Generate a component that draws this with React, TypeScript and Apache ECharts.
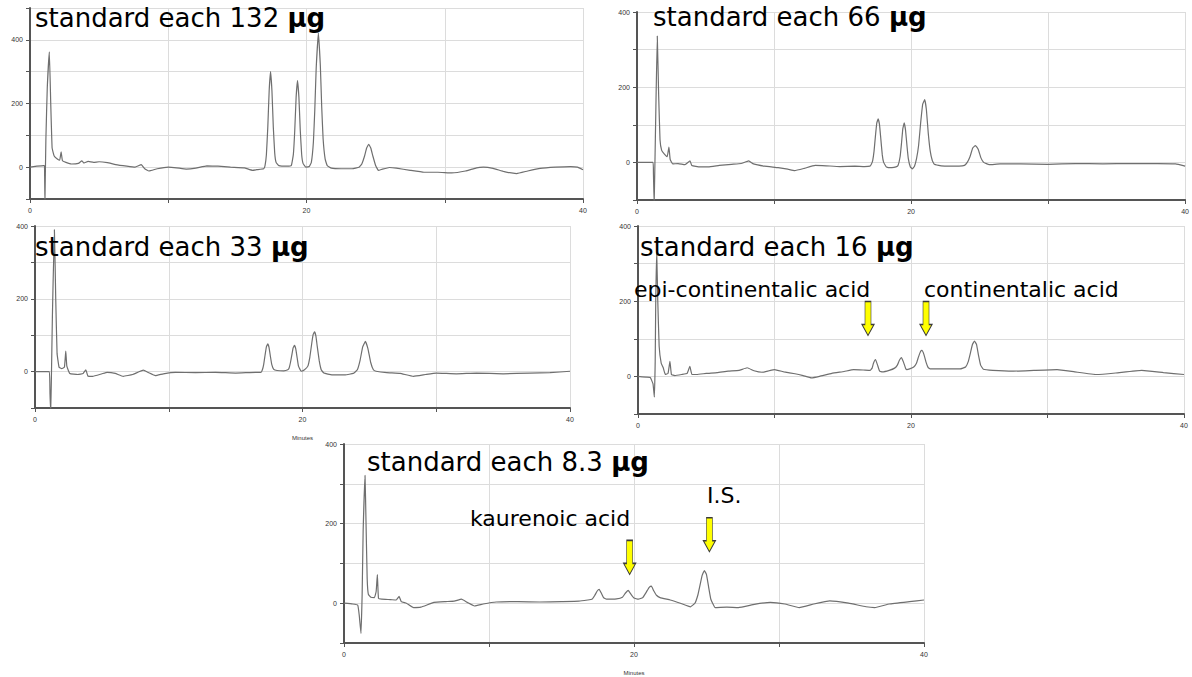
import React, { useEffect, useRef } from "react";
import * as echarts from "echarts";

type Pt = [number, number];

const panelAmounts = ["132", "66", "33", "16", "8.3"];
const unitText = "μg";

const xLabelValues = [0, 20, 40];
const yLabelValues = [0, 200, 400];
const yMaxes = [500, 400, 400, 400, 400];
const yMin = -100;
const xMin = 0;
const xMax = 40;

const std132: Pt[] = [
  [0, 0], [0.5, 3], [1.0, 5], [1.05, 3], [1.08, -110], [1.12, -110], [1.15, 90], [1.25, 250], [1.4, 362],
  [1.5, 200], [1.6, 60], [1.75, 35], [2.0, 25], [2.15, 22], [2.25, 48], [2.35, 20], [2.6, 15], [3.0, 10],
  [3.5, 12], [3.75, 20], [3.9, 13], [4.2, 18], [4.6, 15], [5.0, 17], [5.6, 14], [6.2, 8], [7.0, 3], [7.6, 0],
  [8.05, 8], [8.3, -5], [8.6, -12], [9.2, -5], [10, 0], [10.6, -2], [11.3, -6], [12.0, -3], [12.8, 4],
  [13.6, 3], [14.5, 0], [15.5, -2], [16.1, -10], [16.4, -8], [16.9, -5],
  [17.0, 5], [17.1, 40], [17.2, 125], [17.3, 240], [17.4, 300], [17.5, 240], [17.6, 125], [17.7, 45],
  [17.8, 15], [18.0, 5], [18.6, 3], [18.9, 5],
  [19.05, 40], [19.15, 115], [19.25, 220], [19.35, 272], [19.45, 220], [19.55, 115], [19.65, 40],
  [19.75, 12], [19.95, 0], [20.2, 2],
  [20.35, 15], [20.5, 80], [20.6, 180], [20.7, 310], [20.86, 421], [21.0, 320], [21.1, 190], [21.2, 90],
  [21.35, 25], [21.5, 5], [21.8, -3], [22.5, -5], [23.3, -5], [23.8, 0],
  [24.0, 10], [24.2, 35], [24.35, 60], [24.5, 72], [24.65, 60], [24.8, 35], [25.0, 5], [25.2, -10],
  [25.5, -6], [26, -1], [26.5, -3], [27.5, -10], [28.5, -16], [29.5, -16], [30.5, -18], [31.5, -12],
  [32.3, -2], [32.8, 0], [33.5, -4], [34.3, -14], [35.2, -20], [36, -12], [36.9, -4], [38, 0], [39.1, 2],
  [39.6, 0], [40, -8],
];

const std66: Pt[] = [
  [0, 0], [0.6, 0], [1.17, 0], [1.2, -30], [1.25, -110], [1.3, -20], [1.38, 150], [1.48, 336], [1.58, 180],
  [1.68, 60], [1.8, 32], [2.0, 22], [2.2, 15], [2.33, 41], [2.42, 8], [2.6, -4], [3.0, -3], [3.5, -6],
  [3.87, 4], [4.0, -8], [4.6, -12], [5.2, -12], [6.0, -8], [6.9, -5], [7.6, -3], [8.15, 4], [8.5, -4],
  [9.3, -10], [10.3, -14], [11.0, -18], [11.5, -22], [12.2, -16], [13.0, -8], [13.8, -9], [14.8, -11],
  [15.9, -10], [16.6, -11], [17.0, -10],
  [17.1, -5], [17.2, 5], [17.3, 30], [17.4, 70], [17.5, 105], [17.6, 116], [17.7, 100], [17.8, 60],
  [17.9, 20], [18.0, 0], [18.2, -12], [18.6, -14], [18.9, -12],
  [19.05, -8], [19.2, 15], [19.3, 50], [19.4, 90], [19.5, 105], [19.6, 85], [19.7, 45], [19.8, 10],
  [19.95, -12], [20.1, -17], [20.25, -10],
  [20.4, 10], [20.55, 45], [20.7, 105], [20.85, 155], [21.0, 167], [21.12, 140], [21.25, 80], [21.4, 30],
  [21.55, 5], [21.7, -5], [22.2, -9], [22.8, -10], [23.5, -10], [23.9, -8],
  [24.1, 0], [24.3, 15], [24.5, 38], [24.7, 45], [24.9, 35], [25.1, 12], [25.3, 0], [25.7, -6],
  [26.5, -4], [28, -4], [30, -5], [32, -3], [34, -4], [36, -3], [38, -3], [39.3, -4], [40, -10],
];

const std33: Pt[] = [
  [0, 0], [0.6, 0], [1.07, 0], [1.12, -60], [1.17, -110], [1.22, -30], [1.3, 150], [1.45, 390], [1.55, 200],
  [1.65, 50], [1.8, 12], [2.0, 8], [2.2, 12], [2.3, 56], [2.38, 15], [2.6, -5], [3.2, -8], [3.6, -5],
  [3.8, 5], [3.95, -12], [4.3, -13], [5.0, -6], [5.4, -2], [6.0, -5], [6.6, -13], [7.3, -8], [8.1, 4],
  [8.5, -3], [9.0, -11], [9.6, -6], [10.5, -2], [12, -3], [13.5, -2], [15, -4], [16.5, -2], [16.9, -2],
  [17.0, 5], [17.1, 20], [17.2, 45], [17.3, 68], [17.4, 76], [17.5, 66], [17.6, 42], [17.7, 20],
  [17.85, 6], [18.1, 3], [18.6, 2], [18.9, 5],
  [19.0, 10], [19.1, 25], [19.2, 45], [19.3, 65], [19.4, 72], [19.5, 62], [19.6, 38], [19.7, 15],
  [19.9, 1], [20.15, 5],
  [20.4, 15], [20.55, 40], [20.7, 80], [20.8, 102], [20.9, 109], [21.0, 98], [21.1, 70], [21.25, 30],
  [21.4, 5], [21.6, -4], [22.2, -9], [23.2, -9], [23.8, -5],
  [24.1, 5], [24.3, 30], [24.5, 68], [24.7, 83], [24.9, 62], [25.1, 25], [25.3, 5], [25.5, 1],
  [26.3, -3], [27.3, -5], [28.3, -13], [29.2, -8], [30, -4], [31.5, -6], [33, -4], [35, -6], [37, -4],
  [38.5, -3], [40, 1],
];

const std16: Pt[] = [
  [0, 0], [0.6, -2], [0.9, -3], [1.1, -20], [1.2, -55], [1.26, 40], [1.3, 200], [1.37, 330], [1.45, 200],
  [1.55, 80], [1.7, 35], [1.85, 23], [2.0, 5], [2.2, 8], [2.34, 40], [2.45, 5], [2.7, 2], [3.2, 5],
  [3.6, 8], [3.8, 27], [3.95, 5], [4.3, 5], [5.0, 8], [5.8, 10], [6.6, 14], [7.4, 16], [8.0, 23],
  [8.5, 15], [9.1, 11], [9.6, 15], [10.0, 18], [10.7, 12], [11.5, 7], [12.1, 2], [12.7, -4], [13.3, 0],
  [14.2, 8], [15.1, 13], [15.8, 18], [16.5, 17], [17.0, 16],
  [17.15, 22], [17.25, 35], [17.4, 45], [17.55, 30], [17.7, 14], [17.9, 12], [18.4, 16], [18.8, 22],
  [19.0, 30], [19.15, 43], [19.3, 50], [19.45, 38], [19.6, 22], [19.7, 18], [19.9, 20], [20.2, 25],
  [20.4, 35], [20.55, 52], [20.7, 66], [20.8, 69], [20.95, 58], [21.1, 38], [21.25, 24], [21.4, 20],
  [22, 20], [22.8, 20], [23.6, 20], [24.0, 25],
  [24.2, 40], [24.35, 62], [24.5, 85], [24.65, 94], [24.8, 85], [24.95, 55], [25.1, 30], [25.3, 19],
  [26, 16], [27.5, 14], [29, 16], [30.7, 18], [32, 12], [33.6, 5], [35, 9], [36.9, 16], [38.5, 10],
  [40, 5],
];

const std8_3: Pt[] = [
  [0, 0], [0.6, -2], [0.95, -5], [1.05, -30], [1.17, -76], [1.25, 20], [1.32, 180], [1.45, 321],
  [1.52, 200], [1.6, 60], [1.68, 22], [1.85, 15], [2.1, 14], [2.22, 30], [2.3, 72], [2.38, 12],
  [2.6, 10], [3.2, 9], [3.6, 8], [3.8, 17], [3.95, 4], [4.3, 0], [4.8, -11], [5.3, -10], [6.2, 2],
  [7.0, 4], [7.6, 5], [8.1, 10], [8.5, 2], [9.0, -7], [9.6, -2], [10.5, 3], [12, 4], [13.5, 3], [15, 4],
  [16.2, 5], [16.8, 8], [17.1, 10],
  [17.3, 20], [17.45, 30], [17.6, 35], [17.75, 25], [17.9, 14], [18.1, 10], [18.8, 11], [19.2, 15],
  [19.4, 25], [19.6, 32], [19.8, 22], [20.0, 13], [20.3, 10], [20.6, 14],
  [20.85, 28], [21.05, 40], [21.2, 43], [21.35, 32], [21.55, 20], [21.8, 14], [22.5, 8], [23.2, 0],
  [23.9, -9], [24.2, 0],
  [24.4, 20], [24.55, 45], [24.7, 70], [24.85, 82], [25.0, 72], [25.15, 40], [25.3, 10], [25.6, -11],
  [26.4, -10], [27.2, -11], [28.3, -3], [29.4, 2], [30.4, -2], [31.4, -11], [32.4, -2], [33.5, 6],
  [34.8, 0], [36.0, -9], [36.6, -11], [37.6, -2], [39, 4], [40, 8],
];

const seriesData = [std132, std66, std33, std16, std8_3];

// annotation arrows: [minutes, signal] of the arrow centre
const arrows16: Pt[] = [[16.85, 154], [21.1, 154]];
const arrows8_3: Pt[] = [[19.7, 115], [25.2, 172]];

const annotationLabels = ["epi-continentalic acid", "continentalic acid", "kaurenoic acid", "I.S."];

const gridBoxes = [
  { left: 30, top: 8, width: 553, height: 191 },
  { left: 637, top: 12, width: 549, height: 188 },
  { left: 35, top: 226, width: 535, height: 182 },
  { left: 638, top: 226, width: 546, height: 188 },
  { left: 344, top: 444, width: 580, height: 200 },
];

const titlePos = [
  { left: 35, top: 5 },
  { left: 653, top: 4 },
  { left: 35, top: 234 },
  { left: 640, top: 234 },
  { left: 367, top: 449 },
];

const annotationPos = [
  { left: 634, top: 278 },
  { left: 924, top: 278 },
  { left: 470, top: 507 },
  { left: 707, top: 484 },
];

const showMinutes = [false, false, true, false, true];

const ARROW = "path://M3,0 L9,0 L9,23 L12,23 L6,34 L0,23 L3,23 Z";

export default function App() {
  const ref = useRef<HTMLDivElement>(null);
  useEffect(() => {
    if (!ref.current) return;
    const chart = echarts.init(ref.current, undefined, { renderer: "svg" });
    const axisColor = "#555";
    const labelFont = "Liberation Sans";

    const grid = gridBoxes.map((g) => ({ ...g, containLabel: false }));
    const xAxis = gridBoxes.map((_, i) => ({
      type: "value",
      gridIndex: i,
      min: xMin,
      max: xMax,
      interval: 10,
      name: showMinutes[i] ? "Minutes" : "",
      nameLocation: "middle",
      nameGap: 27,
      nameTextStyle: { fontSize: 6, color: "#333", fontFamily: labelFont },
      axisLine: { show: true, onZero: false, lineStyle: { color: axisColor, width: 2 } },
      axisTick: { show: true, length: 4, lineStyle: { color: axisColor } },
      axisLabel: {
        fontSize: 7,
        color: "#333",
        fontFamily: labelFont,
        margin: 8,
        formatter: (v: number) => (xLabelValues.includes(v) ? String(v) : ""),
      },
      splitLine: { show: true, lineStyle: { color: "#dcdcdc", width: 1 } },
    }));
    const yAxis = gridBoxes.map((_, i) => ({
      type: "value",
      gridIndex: i,
      min: yMin,
      max: yMaxes[i],
      interval: 100,
      axisLine: { show: true, onZero: false, lineStyle: { color: axisColor, width: 2 } },
      axisTick: { show: true, length: 4, lineStyle: { color: axisColor } },
      axisLabel: {
        fontSize: 7,
        color: "#333",
        fontFamily: labelFont,
        margin: 7,
        formatter: (v: number) => (yLabelValues.includes(v) ? String(v) : ""),
      },
      splitLine: { show: true, lineStyle: { color: "#dcdcdc", width: 1 } },
    }));

    const arrowMark = (pts: Pt[]) => ({
      silent: true,
      symbol: ARROW,
      symbolSize: [12, 34],
      symbolKeepAspect: false,
      label: { show: false },
      itemStyle: { color: "#ffff00", borderColor: "#3a3a3a", borderWidth: 1 },
      data: pts.map((p) => ({ coord: p })),
    });

    const series = seriesData.map((d, i) => ({
      type: "line",
      xAxisIndex: i,
      yAxisIndex: i,
      data: d,
      showSymbol: false,
      smooth: 0.1,
      lineStyle: { color: "#6f6f6f", width: 1.2 },
      clip: true,
      markPoint: i === 3 ? arrowMark(arrows16) : i === 4 ? arrowMark(arrows8_3) : undefined,
    }));

    const titleFont = "DejaVu Sans";
    const title = panelAmounts.map((a, i) => ({
      text: `standard each ${a} {u|${unitText}}`,
      left: titlePos[i].left,
      top: titlePos[i].top,
      padding: 0,
      textStyle: {
        fontSize: 26,
        fontWeight: "normal",
        color: "#000",
        fontFamily: titleFont,
        rich: { u: { fontSize: 26, fontWeight: "bold", color: "#000", fontFamily: titleFont } },
      },
    }));
    const annTitles = annotationLabels.map((t, i) => ({
      text: t,
      left: annotationPos[i].left,
      top: annotationPos[i].top,
      padding: 0,
      textStyle: { fontSize: 22, fontWeight: "normal", color: "#000", fontFamily: titleFont },
    }));

    chart.setOption({
      animation: false,
      backgroundColor: "#ffffff",
      title: [...title, ...annTitles],
      grid,
      xAxis,
      yAxis,
      series,
    });
    return () => chart.dispose();
  }, []);
  return (
    <div
      ref={ref}
      style={{ position: "absolute", left: 0, top: 0, width: 1192, height: 677 }}
    />
  );
}
